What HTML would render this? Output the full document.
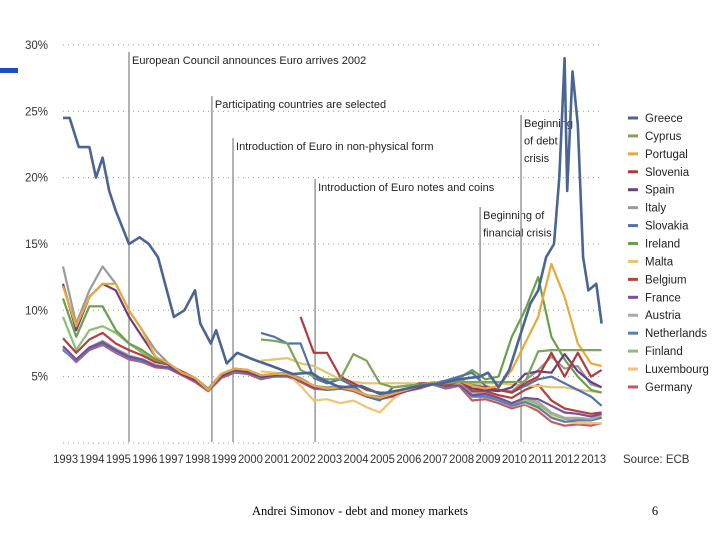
<!DOCTYPE html>
<html><head><meta charset="utf-8">
<style>
html,body{margin:0;padding:0;background:#fff;}
svg{display:block;font-family:"Liberation Sans",sans-serif;}
</style></head>
<body>
<svg id="chart" width="720" height="540" viewBox="0 0 720 540" xmlns="http://www.w3.org/2000/svg">
<rect x="0" y="68" width="18" height="5" fill="#1a4fc4"/>
<g id="grid"></g>
<g id="events"></g>
<g id="series"></g>
<g id="axes"></g>
<g id="legend"></g>
<text x="623" y="463" font-size="11.5" fill="#333">Source: ECB</text>
<text x="360" y="515" font-size="12.5" text-anchor="middle" font-family="Liberation Serif, serif" fill="#000">Andrei Simonov - debt and money markets</text>
<text x="655" y="515" font-size="12.5" text-anchor="middle" font-family="Liberation Serif, serif" fill="#000">6</text>
</svg>
<script>
const yTicks = [0,5,10,15,20,25,30];
const yTickLabels = ["","5%","10%","15%","20%","25%","30%"];
const yearLabels = [1993,1994,1995,1996,1997,1998,1999,2000,2001,2002,2003,2004,2005,2006,2007,2008,2009,2010,2011,2012,2013];
const times = [1993.5,1994,1994.5,1995,1995.5,1996,1996.5,1997,1997.5,1998,1998.5,1999,1999.5,2000,2000.5,2001,2001.5,2002,2002.5,2003,2003.5,2004,2004.5,2005,2005.5,2006,2006.5,2007,2007.5,2008,2008.5,2009,2009.5,2010,2010.5,2011,2011.5,2012,2012.5,2013,2013.5,2013.9];
const greeceTimes = [1993.5,1993.75,1994.1,1994.5,1994.75,1995,1995.25,1995.5,1996,1996.4,1996.75,1997.1,1997.5,1997.7,1998.1,1998.5,1998.7,1999.1,1999.3,1999.7,2000.1,2000.7,2001.4,2002.2,2002.9,2003.3,2004,2004.8,2005.5,2006.3,2007,2007.8,2008.5,2009.3,2009.6,2010,2010.4,2010.8,2011.2,2011.5,2011.8,2012.1,2012.3,2012.5,2012.6,2012.8,2013,2013.2,2013.4,2013.7,2013.9];
const greece = [24.5,24.5,22.3,22.3,20,21.5,19,17.5,15,15.5,15,14,11,9.5,10,11.5,9,7.5,8.5,6,6.8,6.3,5.8,5.2,5.3,4.8,4.2,4.3,3.7,4,4.3,4.5,4.8,5,5.3,4.2,5.5,8,10.5,11.5,14,15,20,29,19,28,24,14,11.5,12,9];
const N = null;
const cyprus = [N,N,N,N,N,N,N,N,N,N,N,N,N,N,N,7.8,7.7,7.5,5.5,5.0,4.8,4.8,6.7,6.2,4.5,4.2,4.3,4.4,4.5,4.5,4.6,4.6,4.6,4.6,4.6,4.6,6.9,7.0,7.0,7.0,7.0,7.0];
const portugal = [11.8,8.8,11.0,12.0,12.0,10.0,8.5,6.5,6.0,5.3,4.9,4.0,5.2,5.6,5.5,5.1,5.2,5.2,4.8,4.3,4.1,4.2,4.0,3.6,3.4,3.7,4.0,4.3,4.6,4.5,4.7,4.3,4.1,4.3,5.5,7.5,9.5,13.5,11.0,7.5,6.0,5.8];
const slovenia = [N,N,N,N,N,N,N,N,N,N,N,N,N,N,N,N,N,N,9.5,6.8,6.8,5.0,4.5,4.0,3.8,3.8,4.0,4.5,4.5,4.4,4.6,4.3,4.2,4.0,3.8,4.5,5.0,6.8,5.0,6.8,5.0,5.5];
const spain = [12.0,8.5,11.0,12.0,11.5,9.5,8.0,6.5,5.9,5.2,4.8,4.0,5.1,5.5,5.4,5.0,5.1,5.2,4.8,4.2,4.1,4.2,4.0,3.6,3.4,3.6,4.0,4.2,4.5,4.4,4.7,4.1,4.0,3.9,4.2,5.2,5.4,5.3,6.7,5.4,4.6,4.2];
const italy = [13.3,9.0,11.5,13.3,12.0,10.0,8.5,7.0,6.0,5.3,4.9,4.1,5.2,5.6,5.5,5.1,5.2,5.3,4.9,4.3,4.2,4.3,4.1,3.6,3.5,3.8,4.1,4.3,4.6,4.5,4.8,4.4,4.2,4.0,3.9,4.7,5.5,6.5,5.6,5.8,4.4,4.2];
const slovakia = [N,N,N,N,N,N,N,N,N,N,N,N,N,N,N,8.3,8.0,7.5,7.5,4.9,4.5,4.8,4.3,3.5,3.2,4.2,4.3,4.4,4.5,4.7,5.0,5.3,4.3,4.0,3.8,4.3,4.8,5.0,4.5,4.0,3.5,2.8];
const ireland = [10.9,8.0,10.3,10.3,8.5,7.5,7.0,6.3,5.9,5.3,4.8,4.0,5.1,5.5,5.4,5.0,5.1,5.2,4.8,4.3,4.1,4.2,4.0,3.6,3.4,3.7,4.0,4.3,4.5,4.5,4.9,5.5,4.8,5.0,8.0,10.0,12.5,8.0,6.3,5.0,4.0,3.8];
const malta = [N,N,N,N,N,N,N,N,N,N,N,N,N,N,N,6.2,6.3,6.4,6.0,5.8,5.3,4.8,4.6,4.5,4.5,4.5,4.5,4.5,4.5,4.5,4.5,4.5,4.5,4.5,4.4,4.3,4.3,4.2,4.2,4.0,3.9,3.8];
const belgium = [7.9,6.8,7.8,8.3,7.5,7.0,6.6,6.1,5.9,5.4,4.9,4.1,5.2,5.6,5.5,5.1,5.2,5.2,4.8,4.3,4.1,4.2,4.0,3.6,3.4,3.7,4.0,4.3,4.5,4.4,4.7,3.9,3.9,3.6,3.4,4.0,4.4,3.2,2.6,2.4,2.2,2.3];
const france = [7.3,6.3,7.2,7.6,7.0,6.5,6.3,5.8,5.7,5.2,4.7,4.0,5.0,5.5,5.3,5.0,5.1,5.1,4.7,4.2,4.1,4.2,4.0,3.6,3.3,3.6,3.9,4.2,4.5,4.3,4.4,3.6,3.7,3.4,3.0,3.4,3.3,2.8,2.3,2.2,2.0,2.2];
const austria = [7.2,6.3,7.2,7.7,7.1,6.6,6.3,5.9,5.7,5.2,4.8,4.0,5.1,5.5,5.4,5.0,5.1,5.2,4.8,4.3,4.1,4.2,4.0,3.6,3.3,3.6,4.0,4.2,4.5,4.3,4.6,3.8,3.8,3.4,3.0,3.4,3.1,2.3,1.9,1.9,1.8,2.1];
const netherlands = [7.0,6.2,7.1,7.5,6.9,6.4,6.2,5.8,5.6,5.2,4.7,4.0,5.0,5.4,5.3,4.9,5.0,5.1,4.7,4.2,4.0,4.1,4.0,3.6,3.3,3.6,3.9,4.2,4.4,4.2,4.4,3.5,3.5,3.2,2.8,3.1,2.7,1.9,1.6,1.7,1.7,1.9];
const finland = [9.5,7.0,8.5,8.8,8.3,7.5,6.8,6.2,5.9,5.3,4.8,4.0,5.1,5.5,5.4,5.0,5.1,5.2,4.8,4.3,4.1,4.2,4.0,3.6,3.4,3.6,4.0,4.2,4.5,4.3,4.4,3.6,3.6,3.3,2.9,3.3,2.9,2.2,1.8,1.8,1.7,2.0];
const luxembourg = [N,N,N,N,N,N,N,N,N,N,N,N,N,N,N,5.4,5.3,5.2,4.3,3.2,3.3,3.0,3.2,2.7,2.3,3.3,4.0,4.2,4.5,4.3,4.4,3.5,3.5,3.2,2.8,3.0,2.6,2.0,1.6,1.5,1.5,1.5];
const germany = [7.1,6.1,7.0,7.4,6.8,6.3,6.1,5.7,5.6,5.1,4.6,3.9,4.9,5.3,5.2,4.8,5.0,5.0,4.6,4.1,4.0,4.1,3.9,3.5,3.3,3.5,3.9,4.1,4.4,4.1,4.3,3.2,3.3,3.0,2.6,2.9,2.4,1.6,1.3,1.4,1.3,1.5];
const eventYears = [1996.0,1999.14,1999.94,2003.05,2009.3,2010.85];
const eventLabels = [["European Council announces Euro arrives 2002"],["Participating countries are selected"],["Introduction of Euro in non-physical form"],["Introduction of Euro notes and coins"],["Beginning of","financial crisis"],["Beginning","of debt","crisis"]];

const NS="http://www.w3.org/2000/svg";
function x(t){return 63+(t-1993.5)*26.4;}
function y(v){return 443-v*13.27;}
function mk(tag,attrs,parent){const e=document.createElementNS(NS,tag);for(const k in attrs)e.setAttribute(k,attrs[k]);parent.appendChild(e);return e;}

const grid=document.getElementById('grid'), axes=document.getElementById('axes');
yTicks.forEach((v,i)=>{
  const l=mk('line',{x1:63,x2:600,y1:y(v),y2:y(v),stroke:'#999','stroke-width':1,'stroke-dasharray':'1,4'},grid);
  
  
  if(yTickLabels[i]){
    const t=mk('text',{x:48,y:y(v)+4,'font-size':11.5,'text-anchor':'end',fill:'#333'},axes);
    t.textContent=yTickLabels[i];
    
    
  }
});
yearLabels.forEach(Y=>{
  const t=mk('text',{x:x(Y+0.6),y:463,'font-size':11.5,'text-anchor':'middle',fill:'#333',textLength:25,lengthAdjust:'spacingAndGlyphs'},axes);
  t.textContent=Y;
  
  
});

const ev=document.getElementById('events');
const evTop=[52,96,138,179,207,115];
eventYears.forEach((t,i)=>{
  const l=mk('line',{x1:x(t),x2:x(t),y1:evTop[i],y2:442,stroke:'#999','stroke-width':1.5},ev);
  
  
  eventLabels[i].forEach((s,j)=>{
    const tx=mk('text',{x:x(t)+3,y:evTop[i]+12+j*17.5,'font-size':11,fill:'#222'},ev);
    tx.textContent=s;
    
    
  });
});

const seriesNames=["Greece","Cyprus","Portugal","Slovenia","Spain","Italy","Slovakia","Ireland","Malta","Belgium","France","Austria","Netherlands","Finland","Luxembourg","Germany"];
const seriesData=[greece,cyprus,portugal,slovenia,spain,italy,slovakia,ireland,malta,belgium,france,austria,netherlands,finland,luxembourg,germany];
const colors=["#4a6593","#7fa35a","#e8a93a","#b03a3a","#6b3f7f","#9a9a9a","#4f73a8","#6aa04a","#e6c46a","#b54040","#7a4e9a","#a8a8a8","#5a80b0","#8bbf70","#f0c474","#c25a66"];
const sg=document.getElementById('series');
const drawOrder=[15,14,13,12,11,10,9,8,7,6,5,4,3,2,1,0];
drawOrder.forEach(i=>{
  const vals=seriesData[i], ts=(i===0)?greeceTimes:times;
  let d='',pen=false;
  vals.forEach((v,k)=>{ if(v===null){pen=false;return;} d+=(pen?'L':'M')+x(ts[k]).toFixed(1)+','+y(v).toFixed(1); pen=true;});
  const p=mk('path',{d:d,fill:'none',stroke:colors[i],'stroke-width':i===0?2.6:2.2,'stroke-linejoin':'round'},sg);
  
  
});

const lg=document.getElementById('legend');
seriesNames.forEach((n,i)=>{
  const yy=118+i*17.93;
  const l=mk('line',{x1:628,x2:638,y1:yy,y2:yy,stroke:colors[i],'stroke-width':3},lg);
  
  
  const t=mk('text',{x:645,y:yy+4,'font-size':11.5,fill:'#222'},lg);
  t.textContent=n;
  
  
});
</script>
</body></html>
